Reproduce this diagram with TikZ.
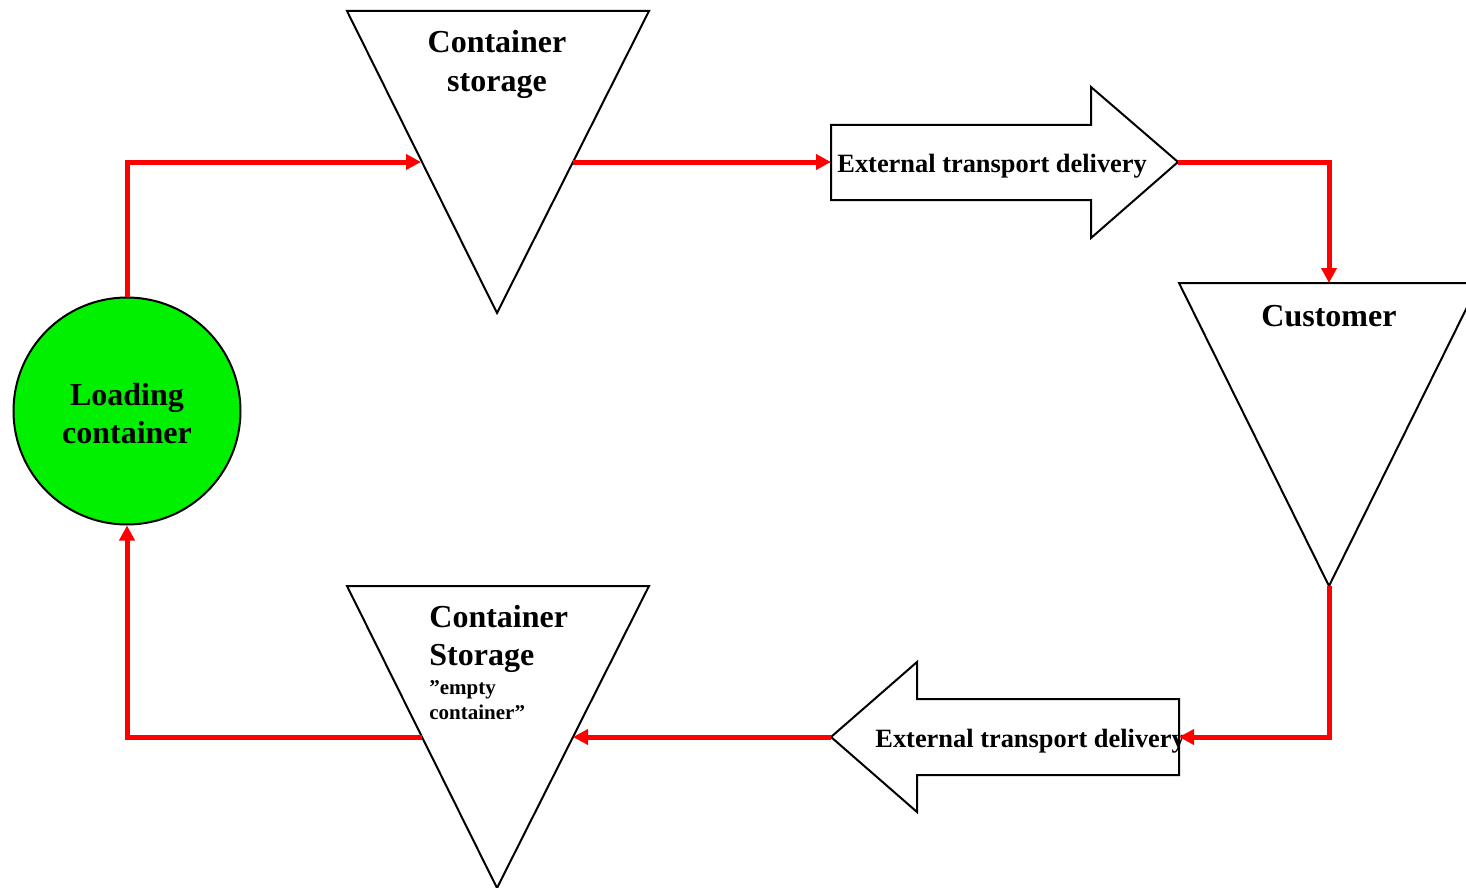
\documentclass[tikz,border=0pt]{standalone}
\usepackage{fontspec}
\setmainfont{Liberation Serif}
\usetikzlibrary{arrows.meta}
\definecolor{brightgreen}{RGB}{0,240,0}
\tikzset{
  shapeline/.style={draw=black,line width=1pt,line join=miter},
  flow/.style={draw=red,line width=2.5pt,-{Triangle[length=7.5pt,width=7.5pt]}},
  bigtxt/.style={inner sep=0pt,font=\fontsize{16}{19}\selectfont\bfseries},
  midtxt/.style={inner sep=0pt,font=\fontsize{13.2}{16}\selectfont\bfseries},
  smalltxt/.style={inner sep=0pt,font=\fontsize{10.5}{12.5}\selectfont\bfseries},
}
\begin{document}
\begin{tikzpicture}[x=0.5pt,y=-0.5pt]
\useasboundingbox (0,0) rectangle (1466,888);
% triangles
\draw[shapeline] (347,11) -- (649,11) -- (497,313) -- cycle;
\draw[shapeline] (1179,283) -- (1479,283) -- (1329,586) -- cycle;
\draw[shapeline] (347,586) -- (649,586) -- (497,888) -- cycle;
% block arrows
\draw[shapeline] (831,125) -- (1091,125) -- (1091,87) -- (1178,162) -- (1091,238) -- (1091,200) -- (831,200) -- cycle;
\draw[shapeline] (831,737) -- (917,662) -- (917,699) -- (1179,699) -- (1179,775) -- (917,775) -- (917,812) -- cycle;
% circle
\node[circle,draw=black,line width=1pt,fill=brightgreen,minimum size=113.5pt,inner sep=0pt] (load) at (127,411) {};
\node[align=center,inner sep=0pt,font=\fontsize{16}{19}\selectfont\bfseries] (loadtxt) at (127,414) {Loading\\container};
% texts
\node[bigtxt,anchor=base] (ts1) at (497,53) {Container};
\node[bigtxt,anchor=base] (ts2) at (497,91) {storage};
\node[bigtxt,anchor=base] (cu) at (1329,326) {Customer};
\node[bigtxt,anchor=base west] (bs1) at (429,627) {Container};
\node[bigtxt,anchor=base west] (bs2) at (429,665) {Storage};
\node[smalltxt,anchor=base west] (bs3) at (429,694) {”empty};
\node[smalltxt,anchor=base west] (bs4) at (429,719) {container”};
\node[midtxt,anchor=base west] (et1) at (837,172) {External transport delivery};
\node[midtxt,anchor=base west] (et2) at (875,747) {External transport delivery};
% connector anchors
\coordinate (tsL) at (421,162);
\coordinate (tsR) at (573,162);
\coordinate (raTail) at (831,162);
\coordinate (raTip) at (1178,162);
\coordinate (cuTop) at (1329,283);
\coordinate (cuApex) at (1329,586);
\coordinate (laRight) at (1179,737);
\coordinate (laTip) at (831,737);
\coordinate (bsR) at (573,737);
\coordinate (bsL) at (422,737);
% connectors
\draw[flow] (load.north) |- (tsL);
\draw[flow] (tsR) -- (raTail);
\draw[flow] (raTip) -| (cuTop);
\draw[flow] (cuApex) |- (laRight);
\draw[flow] (laTip) -- (bsR);
\draw[flow] (bsL) -| (load.south);
\end{tikzpicture}
\end{document}
